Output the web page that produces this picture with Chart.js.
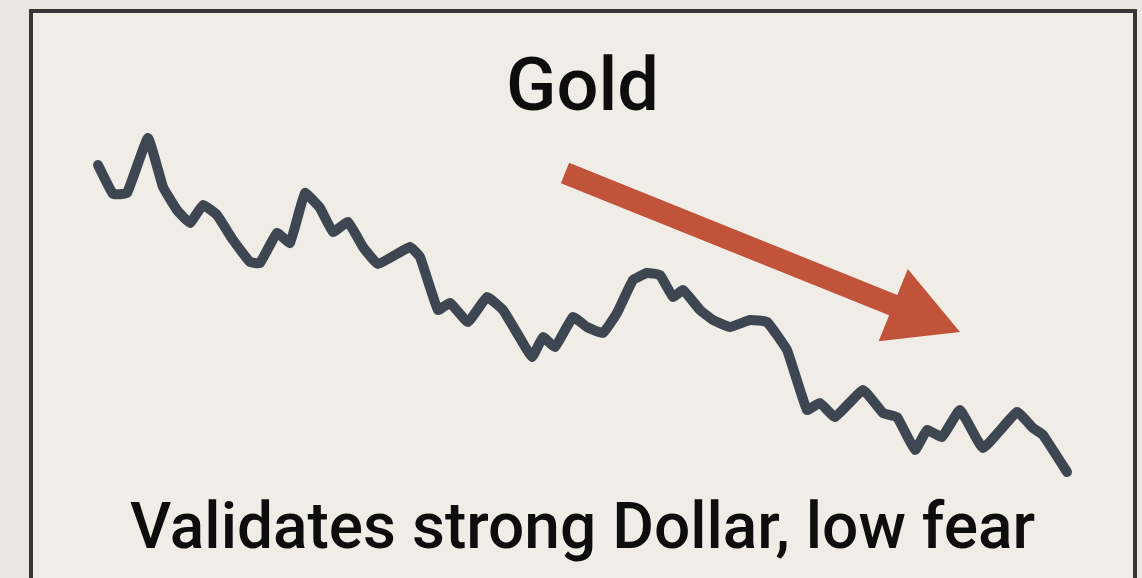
<!DOCTYPE html>
<html>
<head>
<meta charset="utf-8">
<script src="https://cdn.jsdelivr.net/npm/chart.js@4.4.1/dist/chart.umd.min.js"></script>
<style>
  html, body { margin: 0; padding: 0; width: 1142px; height: 578px; overflow: hidden; background: #eae7e1; }
  #frame {
    position: absolute; left: 29px; top: 9px;
    width: 1100px; height: 600px;
    border: 4px solid #363636;
    background: #f0ede7;
  }
  #wrap { position: absolute; left: 0; top: 0; width: 1100px; height: 565px; }
</style>
</head>
<body>
<div id="frame"><div id="wrap"><canvas id="goldChart"></canvas></div></div>
<script>
// Gold price path (arbitrary index units)
const days = [0, 15, 29, 50, 65, 79, 92, 105, 119, 135, 152, 162, 179, 192, 207, 222, 235, 250, 265, 280,
  312, 322, 340, 352, 370, 389, 405, 419, 434, 445, 457, 475, 489, 505, 519, 535, 549, 562, 575, 585,
  602, 615, 632, 652, 669, 689, 709, 722, 737, 765, 785, 799, 817, 829, 844, 862, 885, 919, 935, 945, 969];
const gold = [335, 306, 307, 362, 313, 290, 277, 295, 285, 260, 238, 237, 267, 257, 307, 292, 268, 278, 253, 236,
  253, 243, 190, 197, 178, 203, 190, 167, 143, 163, 153, 183, 173, 167, 187, 220, 227, 225, 203, 210,
  190, 180, 173, 180, 178, 150, 90, 97, 83, 110, 87, 83, 50, 70, 63, 90, 52, 88, 72, 65, 28];

// downward trend arrow, in data units: [day, value]
const arrowFrom = [467, 327];
const arrowTo = [862, 168];

const titleText = "Gold";
const captionText = "Validates strong Dollar, low fear";

/* ── Arrow plugin ───────────────────────────────────────────*/
const trendArrow = {
  id: "trendArrow",
  afterDatasetsDraw(chart) {
    const { ctx, scales: { x, y } } = chart;
    const x0 = x.getPixelForValue(arrowFrom[0]), y0 = y.getPixelForValue(arrowFrom[1]);
    const x1 = x.getPixelForValue(arrowTo[0]), y1 = y.getPixelForValue(arrowTo[1]);
    const ang = Math.atan2(y1 - y0, x1 - x0);
    const len = Math.hypot(x1 - x0, y1 - y0);
    const headLen = 72, headW = 39, shaftW = 11;

    ctx.save();
    ctx.translate(x0, y0);
    ctx.rotate(ang);
    ctx.fillStyle = "#c1533a";
    ctx.beginPath();
    ctx.moveTo(0, -shaftW);
    ctx.lineTo(len - headLen, -shaftW);
    ctx.lineTo(len - headLen, -headW);
    ctx.lineTo(len, 0);
    ctx.lineTo(len - headLen, headW);
    ctx.lineTo(len - headLen, shaftW);
    ctx.lineTo(0, shaftW);
    ctx.closePath();
    ctx.fill();
    ctx.restore();
  }
};

new Chart(document.getElementById("goldChart"), {
  type: "line",
  data: {
    datasets: [{
      data: days.map((d, i) => ({ x: d, y: gold[i] })),
      borderColor: "#3e4751",
      borderWidth: 10,
      borderJoinStyle: "round",
      borderCapStyle: "round",
      pointRadius: 0,
      tension: 0.1,
      fill: false,
      clip: false
    }]
  },
  options: {
    responsive: true,
    maintainAspectRatio: false,
    animation: false,
    layout: { padding: { left: 65, right: 66, top: 0, bottom: 0 } },
    scales: {
      x: { type: "linear", display: false, min: 0, max: 969 },
      y: { display: false, min: 20, max: 370 }
    },
    plugins: {
      legend: { display: false },
      tooltip: { enabled: false },
      title: {
        display: true,
        text: titleText,
        color: "#0d0d0d",
        font: { family: "Roboto", size: 74, weight: 500, lineHeight: 1 },
        padding: { top: 41.5, bottom: 1.5 }
      },
      subtitle: {
        display: true,
        position: "bottom",
        text: captionText,
        color: "#0d0d0d",
        font: { family: "Roboto", size: 64, weight: 500, lineHeight: 1 },
        padding: { top: 20, bottom: 14 }
      }
    }
  },
  plugins: [trendArrow]
});
</script>
</body>
</html>
